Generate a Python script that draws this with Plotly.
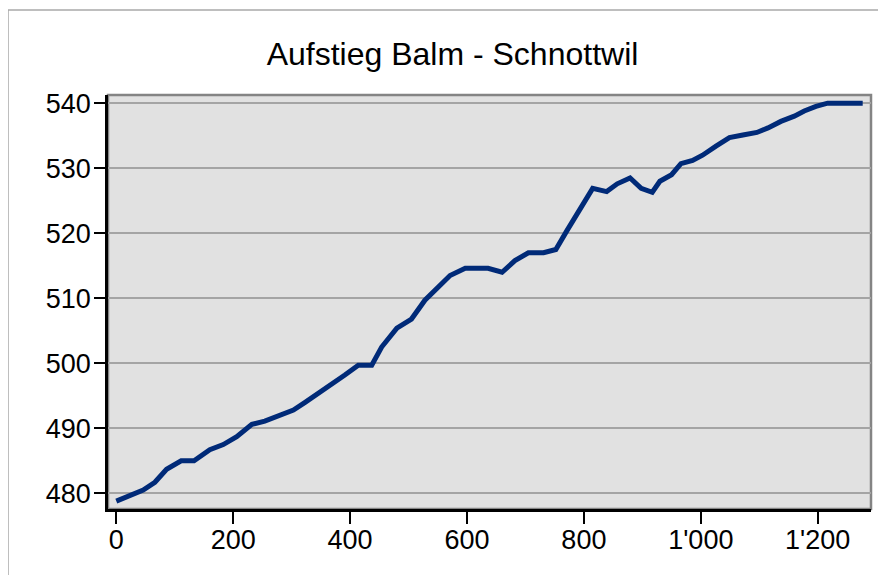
import plotly.graph_objects as go

distance = [0, 46, 66, 86, 111, 133, 160, 183, 206, 232, 254, 303, 323, 349, 371,
            391, 414, 437, 454, 480, 505, 528, 571, 597, 636, 660, 682, 705, 731,
            752, 771, 793, 815, 839, 857, 879, 898, 917, 930, 950, 966, 986, 1003,
            1026, 1049, 1072, 1096, 1115, 1137, 1160, 1177, 1197, 1217, 1277]
elevation = [478.8, 480.5, 481.7, 483.7, 485.0, 485.0, 486.7, 487.5, 488.7, 490.6,
             491.1, 492.8, 494.0, 495.6, 496.8, 498.2, 499.7, 499.7, 502.5, 505.4,
             506.8, 509.7, 513.5, 514.6, 514.6, 514.0, 515.8, 517.0, 517.0, 517.5,
             520.4, 523.8, 526.9, 526.4, 527.6, 528.5, 526.9, 526.3, 528.0, 529.0,
             530.7, 531.2, 532.0, 533.4, 534.7, 535.1, 535.5, 536.2, 537.2, 538.0,
             538.8, 539.5, 540.0, 540.0]
title_text = "Aufstieg Balm - Schnottwil"
x_ticks = [0, 200, 400, 600, 800, 1000, 1200]
y_ticks = [480, 490, 500, 510, 520, 530, 540]

FONT = "Liberation Sans, Arial, sans-serif"

fig = go.Figure(go.Scatter(
    x=distance, y=elevation, mode="lines",
    line=dict(color="#002A78", width=5),
    hoverinfo="skip",
))

# page body has an 8px margin: figure is placed at (8, 8) in the window
OFF = 8
WIN_W, WIN_H = 886, 575
W, H = WIN_W - OFF, WIN_H - OFF
# plot area in window pixels: x 108..871, y 95..509
L, R, T, B = 108 - OFF, WIN_W - 871, 95 - OFF, WIN_H - 509
pw, ph = W - L - R, H - T - B

def px_x(p):  # window pixel -> paper x
    return (p - OFF - L) / pw

def px_y(p):  # window pixel -> paper y
    return (H - B - (p - OFF)) / ph

fig.update_layout(
    width=W, height=H,
    margin=dict(l=L, r=R, t=T, b=B, pad=0),
    paper_bgcolor="white",
    plot_bgcolor="#E1E1E1",
    showlegend=False,
    separators=".'",
    font=dict(family=FONT, color="black"),
    title=dict(text=title_text, font=dict(size=32, family=FONT, color="black"),
               x=px_x(452.5), xref="paper", xanchor="center",
               y=1 - (54 - OFF) / H, yref="container", yanchor="middle"),
    xaxis=dict(range=[-14.2, 1291.2], tickvals=x_ticks, tickformat=",",
               showgrid=False, zeroline=False,
               showline=True, linecolor="black", linewidth=2.5,
               ticks="outside", ticklen=12, tickwidth=2, tickcolor="black",
               ticklabelstandoff=-7,
               tickfont=dict(size=27, family=FONT, color="black")),
    yaxis=dict(range=[477.59, 541.26], tickvals=y_ticks,
               showgrid=True, gridcolor="#A4A4A4", gridwidth=1.5, zeroline=False,
               showline=True, linecolor="black", linewidth=2.5,
               ticks="outside", ticklen=11, tickwidth=2, tickcolor="black",
               ticklabelstandoff=-2,
               tickfont=dict(size=27, family=FONT, color="black")),
    shapes=[
        dict(type="rect", xref="paper", yref="paper", x0=0, x1=1, y0=0, y1=1,
             line=dict(color="#848484", width=2.5), layer="below"),
        dict(type="line", xref="paper", yref="paper",
             x0=px_x(8), x1=px_x(WIN_W + 10), y0=px_y(10), y1=px_y(10),
             line=dict(color="#A8A8A8", width=1.5)),
        dict(type="line", xref="paper", yref="paper",
             x0=px_x(8), x1=px_x(8), y0=px_y(10), y1=px_y(WIN_H + 10),
             line=dict(color="#A8A8A8", width=1.5)),
    ],
)

fig.write_html("out.html")
